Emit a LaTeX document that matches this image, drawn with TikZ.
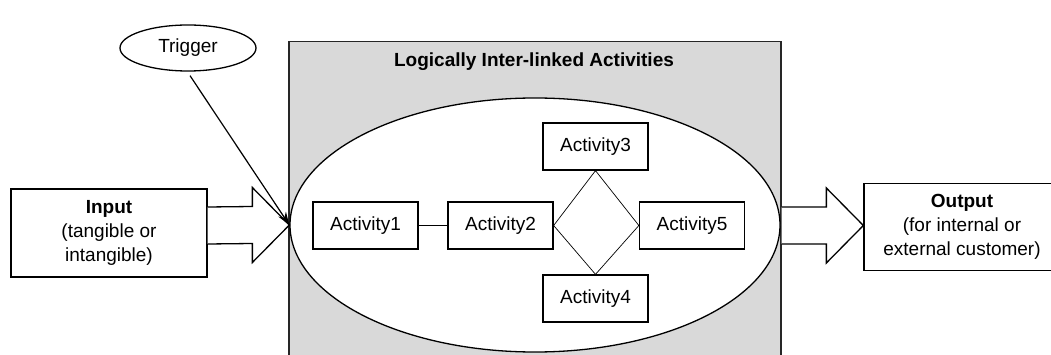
\documentclass[tikz,border=0pt]{standalone}
\usepackage{fontspec}
\setmainfont{Liberation Sans}
\usetikzlibrary{shapes.geometric,arrows.meta,calc}
\begin{document}
\begin{tikzpicture}[x=1pt,y=-1pt,
  txt/.style={font=\fontsize{19}{24}\selectfont},
  actbox/.style={draw,line width=1.3pt,minimum width=105pt,minimum height=47pt,
    inner sep=0pt,fill=white,txt},
  endbox/.style={draw,line width=1.3pt,minimum width=196pt,inner sep=0pt,
    fill=white,txt,align=center},
  link/.style={line width=0.7pt},
  blockarrow/.style={draw,line width=1.3pt,fill=white,line join=miter},
]
\useasboundingbox (0,0) rectangle (1051,355);
\clip (0,0) rectangle (1051,355);

% grey frame holding the activities
\node[draw=black!85,line width=1.5pt,fill=black!15,minimum width=492pt,
  minimum height=330pt,anchor=north west,inner sep=0pt] (frame) at (288,41) {};
\node[txt] (title) at (534,62) {\textbf{Logically Inter-linked Activities}};

% ellipse with the activity network
\node[draw,ellipse,line width=1.3pt,fill=white,minimum width=490pt,
  minimum height=254pt,inner sep=0pt] (scope) at (535,225) {};

\node[actbox] (a1) at (365.5,225.5) {Activity1};
\node[actbox] (a2) at (500.5,225.5) {Activity2};
\node[actbox] (a3) at (595.5,146.5) {Activity3};
\node[actbox] (a4) at (595.5,298.5) {Activity4};
\node[actbox] (a5) at (692,225.5) {Activity5};

\draw[link] (a1) -- (a2);
\draw[link] (a2.east) -- (a3.south) -- (a5.west) -- (a4.north) -- cycle;

% input and output
\node[endbox,minimum height=88pt] (in) at (109,233)
  {\textbf{Input}\\(tangible or\\intangible)};
\node[endbox,minimum height=87pt] (out) at (962,227)
  {\textbf{Output}\\(for internal or\\external customer)};

% block arrows
\coordinate (intip) at (scope.west);
\draw[blockarrow] (in.east |- 0,207) -- ($(intip)+(-37,-18.5)$)
  -- ($(intip)+(-37,-37.5)$) -- (intip) -- ($(intip)+(-37,37.5)$)
  -- ($(intip)+(-37,18.5)$) -- (in.east |- 0,244);

\coordinate (outtip) at (out.west |- 0,225.5);
\draw[blockarrow] (frame.east |- 0,207) -- ($(outtip)+(-37,-18.5)$)
  -- ($(outtip)+(-37,-37.5)$) -- (outtip) -- ($(outtip)+(-37,37.5)$)
  -- ($(outtip)+(-37,18.5)$) -- (frame.east |- 0,244);

% trigger
\node[draw,ellipse,line width=1.3pt,fill=white,minimum width=136pt,
  minimum height=46pt,inner sep=0pt,txt] (trig) at (188,48) {Trigger};
\draw[line width=1.2pt,-{Stealth[length=13pt,width=9pt]}]
  ($(trig.south)+(2,4)$) -- (intip);
\end{tikzpicture}
\end{document}
